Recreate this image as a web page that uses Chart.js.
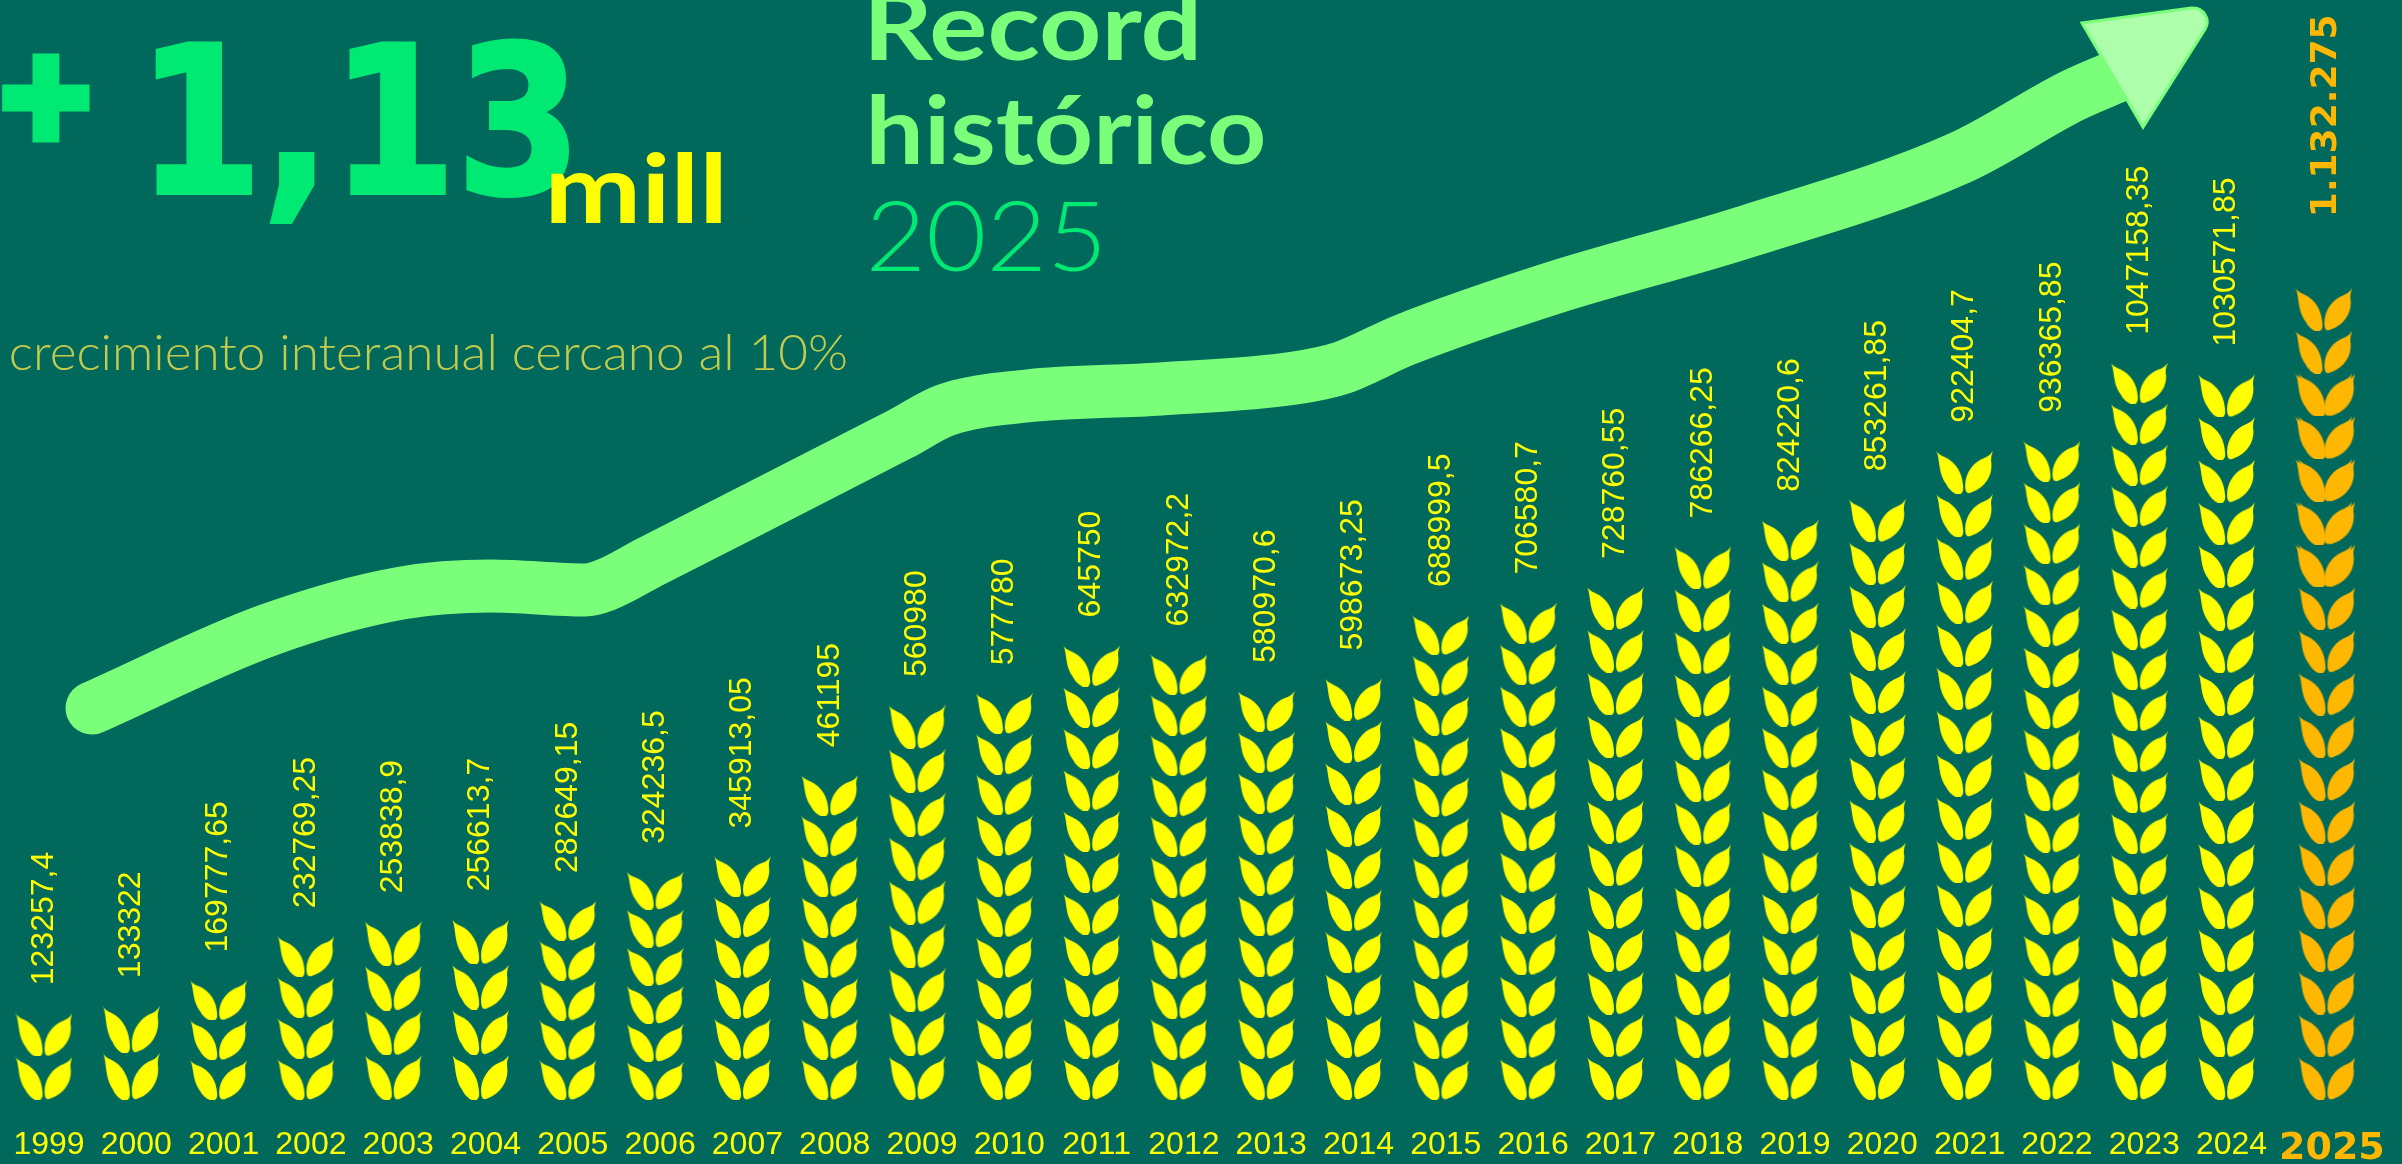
<!DOCTYPE html>
<html>
<head>
<meta charset="utf-8">
<title>Record historico 2025</title>
<script src="https://cdn.jsdelivr.net/npm/chart.js@4"></script>
<style>
html,body{margin:0;padding:0;background:#00695c;overflow:hidden}
canvas{display:block}
</style>
</head>
<body>
<canvas id="myChart" width="2402" height="1164"></canvas>
<script>
var years=[1999,2000,2001,2002,2003,2004,2005,2006,2007,2008,2009,2010,2011,2012,2013,2014,2015,2016,2017,2018,2019,2020,2021,2022,2023,2024];
var values=[123257.4,133322,169777.65,232769.25,253838.9,256613.7,282649.15,324236.5,345913.05,461195,560980,577780,645750,632972.2,580970.6,598673.25,688999.5,706580.7,728760.55,786266.25,824220.6,853261.85,922404.7,936365.85,1047158.35,1030571.85];
var wheatCounts=[2,2,3,4,4,4,5,6,6,8,9,10,11,11,10,10,12,12,12,13,14,14,15,16,18,17];

var year2025=2025;
var value2025=1132275;
var label2025="1.132.275";
var wheatCount2025=19;

// the growth arrow in the same units as the columns
var arrowYears=[1999.55,2001.57,2003.10,2004.12,2005.20,2005.43,2005.94,2008.81,2009.33,2010.26,2011.79,2013.33,2013.86,2014.58,2016.25,2018.45,2020.94,2022.25,2022.78];
var arrowValues=[556818,667614,720170,730114,724432,731534,764205,946023,980114,1000000,1009943,1025568,1039773,1079545,1151989,1231534,1338068,1427557,1455966];

var yellow="#ffff00";
var amber="#ffb700";
var arrowGreen="#7bff7a";
var brightGreen="#00e972";

// 2025 stands a little apart from the other columns
var x2025=year2025+0.15;

function wheatPath(c,w,h){
	function p(a,b,cc,d,e,f){c.bezierCurveTo(a*w,b*h,cc*w,d*h,e*w,f*h);}
	c.beginPath();
	c.moveTo(0,0);
	p(.07,.15,.03,.5,.17,.76);
	p(.28,1.05,.49,1.1,.475,.85);
	p(.47,.55,.36,.26,.14,.14);
	p(.07,.1,.03,.06,0,0);
	c.closePath();
	c.moveTo(w,0);
	p(.96,.07,.93,.12,.85,.16);
	p(.67,.24,.51,.5,.51,.8);
	p(.51,.98,.55,1.01,.63,.96);
	p(.9,.83,1.0,.5,.965,.25);
	p(.96,.14,.98,.07,1,0);
	c.closePath();
	c.fill();
}

var sprites={};
function wheatSprite(height,color){
	var key=Math.round(height)+color;
	if(sprites[key]) return sprites[key];
	var cv=document.createElement("canvas");
	cv.width=57;
	cv.height=Math.round(height);
	var c=cv.getContext("2d");
	c.fillStyle=color;
	wheatPath(c,57,cv.height);
	sprites[key]=cv;
	return cv;
}

var wheatPoints=[];
for(var i=0;i<years.length;i++){
	for(var r=0;r<wheatCounts[i];r++){
		wheatPoints.push({x:years[i],y:values[i]*(r+0.5)/wheatCounts[i],step:values[i]/wheatCounts[i]});
	}
}
var wheatPoints2025=[];
for(var r=0;r<wheatCount2025;r++){
	var pt=value2025*(r+0.5)/wheatCount2025;
	// two copies overlap in the upper rows of the original
	if(r<=16) wheatPoints2025.push({x:x2025,y:pt,step:value2025/wheatCount2025});
	if(r>=12) wheatPoints2025.push({x:x2025-0.035,y:pt,step:value2025/wheatCount2025});
}

function spriteStyle(axis,color){
	return function(ctx){
		if(!ctx.raw) return false;
		var s=ctx.chart.scales[axis];
		return wheatSprite(s.getPixelForValue(0)-s.getPixelForValue(ctx.raw.step),color);
	};
}

function fitText(ctx,str,font,color,left,right,top,bottom,thicken){
	ctx.save();
	ctx.font=font;
	ctx.fillStyle=color;
	ctx.textAlign="left";
	ctx.textBaseline="alphabetic";
	var m=ctx.measureText(str);
	var w=m.actualBoundingBoxLeft+m.actualBoundingBoxRight;
	var h=m.actualBoundingBoxAscent+m.actualBoundingBoxDescent;
	ctx.translate(left,top);
	ctx.scale((right-left)/w,(bottom-top)/h);
	ctx.fillText(str,m.actualBoundingBoxLeft,m.actualBoundingBoxAscent);
	if(thicken){
		ctx.strokeStyle=color;
		ctx.lineWidth=thicken;
		ctx.lineJoin="miter";
		ctx.strokeText(str,m.actualBoundingBoxLeft,m.actualBoundingBoxAscent);
	}
	ctx.restore();
}

function verticalLabel(ctx,str,x,y,font,color){
	ctx.save();
	ctx.translate(x,y);
	ctx.rotate(-Math.PI/2);
	ctx.font=font;
	ctx.fillStyle=color;
	ctx.textAlign="left";
	ctx.textBaseline="middle";
	ctx.fillText(str,0,0);
	ctx.restore();
}

var valueLabels={
	id:"valueLabels",
	afterDatasetsDraw:function(chart){
		var ctx=chart.ctx,sx=chart.scales.x,sy=chart.scales.y;
		for(var i=0;i<years.length;i++){
			verticalLabel(ctx,String(values[i]).replace(".",","),sx.getPixelForValue(years[i]),sy.getPixelForValue(values[i])-28,"32px 'Liberation Sans'",yellow);
		}
		verticalLabel(ctx,label2025,sx.getPixelForValue(x2025),chart.scales.y2.getPixelForValue(value2025)-71,"bold 36px 'DejaVu Sans'",amber);
	}
};

var arrowHead={
	id:"arrowHead",
	afterDatasetsDraw:function(chart){
		var ctx=chart.ctx;
		var pts=chart.getDatasetMeta(0).data;
		var end=pts[pts.length-1];
		var x=end.x,y=end.y;
		ctx.save();
		ctx.beginPath();
		ctx.moveTo(x-38,y-52);
		ctx.arcTo(x+101,y-71,x+23,y+52,14);
		ctx.lineTo(x+23,y+52);
		ctx.closePath();
		ctx.fillStyle="#aeffac";
		ctx.strokeStyle=arrowGreen;
		ctx.lineWidth=3;
		ctx.lineJoin="miter";
		ctx.fill();
		ctx.stroke();
		ctx.restore();
	}
};

var headlines={
	id:"headlines",
	afterDraw:function(chart){
		var ctx=chart.ctx;
		fitText(ctx,"+","bold 130px 'DejaVu Sans'",brightGreen,8,84,60,136,14);
		fitText(ctx,"1,13","bold 200px 'DejaVu Sans'",brightGreen,157,568,42,222,4);
		fitText(ctx,"mill","bold 90px Lato",yellow,551,721,152,223);
		fitText(ctx,"Record","bold 96px Lato",arrowGreen,871,1196,-9,61);
		fitText(ctx,"histórico","bold 96px Lato",arrowGreen,871,1263,94,165);
		fitText(ctx,"2025","300 96px Lato",brightGreen,871,1099,200,272);
		fitText(ctx,"crecimiento interanual cercano al 10%","300 46px Lato","#c3cb4c",11,846,334,370);
	}
};

var xTicks=years.concat([x2025]);

new Chart(document.getElementById("myChart"),{
	type:"scatter",
	data:{
		datasets:[{
			type:"line",
			data:arrowYears.map(function(y,i){return {x:y,y:arrowValues[i]};}),
			borderColor:arrowGreen,
			borderWidth:53,
			borderCapStyle:"round",
			cubicInterpolationMode:"monotone",
			pointRadius:0,
			fill:false,
			order:3
		},{
			data:wheatPoints,
			pointStyle:spriteStyle("y",yellow),
			pointRadius:20,
			order:1
		},{
			data:wheatPoints2025,
			yAxisID:"y2",
			pointStyle:spriteStyle("y2",amber),
			pointRadius:20,
			order:2
		}]
	},
	options:{
		responsive:false,
		devicePixelRatio:1,
		animation:false,
		layout:{padding:0,autoPadding:false},
		plugins:{legend:{display:false},tooltip:{enabled:false},title:{display:false}},
		scales:{
			x:{
				type:"linear",
				min:1998.496,
				max:2026.01,
				grid:{display:false},
				border:{display:false},
				afterBuildTicks:function(scale){
					scale.ticks=xTicks.map(function(v){return {value:v};});
				},
				afterFit:function(scale){
					scale.height=64;
					scale.paddingLeft=0;
					scale.paddingRight=0;
				},
				ticks:{
					autoSkip:false,
					maxRotation:0,
					minRotation:0,
					padding:18,
					labelOffset:5,
					callback:function(v){return String(Math.floor(v));},
					color:function(c){return c.tick && c.tick.value>=year2025?amber:yellow;},
					font:function(c){
						if(c.tick && c.tick.value>=year2025) return {family:"'DejaVu Sans'",size:38,weight:"bold"};
						return {family:"'Liberation Sans'",size:32};
					}
				}
			},
			y:{display:false,min:0,max:1562500},
			y2:{display:false,min:0,max:1534170}
		}
	},
	plugins:[valueLabels,arrowHead,headlines]
});
</script>
</body>
</html>
